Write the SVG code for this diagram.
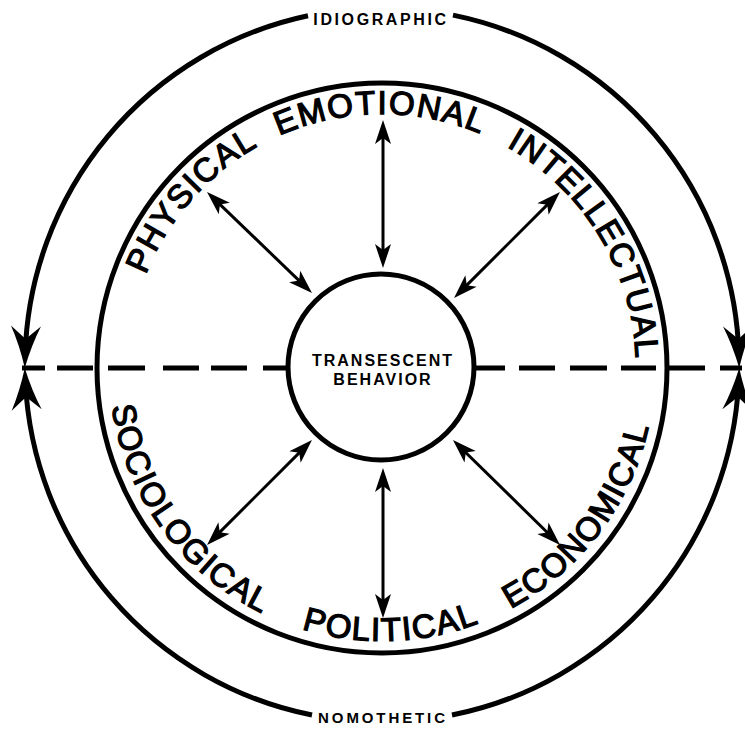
<svg xmlns="http://www.w3.org/2000/svg" width="745" height="730" viewBox="0 0 745 730">
<style>
.ring{fill:none;stroke:#000;stroke-width:5}
.big{fill:none;stroke:#000;stroke-width:5}
.arr{fill:none;stroke:#000;stroke-width:3}
.dash{fill:none;stroke:#000;stroke-width:5}
.lbl{font-family:"Liberation Sans",Arial,sans-serif;font-size:33px;letter-spacing:1.5px;fill:#000;stroke:#000;stroke-width:1.3px}
.sm{font-family:"Liberation Sans",Arial,sans-serif;font-weight:bold;fill:#000}
</style>
<defs>
<marker id="bigHead" markerUnits="userSpaceOnUse" orient="auto" refX="0" refY="0" markerWidth="60" markerHeight="40" viewBox="-30 -20 60 40" overflow="visible">
<path d="M13,0 Q-10,-6 -29,-15 L-16,0 L-29,15 Q-10,6 13,0 Z" fill="#000"/>
</marker>
<marker id="smHead" markerUnits="userSpaceOnUse" orient="auto-start-reverse" refX="0" refY="0" markerWidth="30" markerHeight="20" viewBox="-15 -10 30 20" overflow="visible">
<path d="M10,0 L-14,-8 L-8,0 L-14,8 Z" fill="#000"/>
</marker>
<path id="topArc" d="M128,368 A254,254 0 0 1 636,368"/>
<path id="botArc" d="M109,368 A273,273 0 0 0 655,368"/>
</defs>

<g id="connectors">
<path class="dash" d="M22,368H45 M57,368H93 M108,368H145 M163,368H199 M211,368H247 M263,368H288"/>
<path class="dash" d="M476,368H505 M519,368H555 M570,368H607 M621,368H656 M669,368H705 M720,368H742"/>
<path class="big" d="M308,15.75 A357,357 0 0 0 25.14,355" marker-end="url(#bigHead)"/>
<path class="big" d="M453,15.13 A357,357 0 0 1 738.86,355" marker-end="url(#bigHead)"/>
<path class="big" d="M312,715.07 A357,357 0 0 1 25.36,381" marker-end="url(#bigHead)"/>
<path class="big" d="M452,715.07 A357,357 0 0 0 738.64,381" marker-end="url(#bigHead)"/>
<path class="arr" d="M383,130 L383,258" marker-start="url(#smHead)" marker-end="url(#smHead)"/>
<path class="arr" d="M383,478 L383,608" marker-start="url(#smHead)" marker-end="url(#smHead)"/>
<path class="arr" d="M214.2,198.9 L304.8,286.1" marker-start="url(#smHead)" marker-end="url(#smHead)"/>
<path class="arr" d="M552.9,199.1 L461.1,290.9" marker-start="url(#smHead)" marker-end="url(#smHead)"/>
<path class="arr" d="M304.9,447.1 L214.1,537.9" marker-start="url(#smHead)" marker-end="url(#smHead)"/>
<path class="arr" d="M460.1,447 L552.9,538" marker-start="url(#smHead)" marker-end="url(#smHead)"/>
</g>

<g id="outer-labels">
<text class="sm" x="381" y="25" font-size="16" letter-spacing="2.6" text-anchor="middle">IDIOGRAPHIC</text>
<text class="sm" x="383" y="723" font-size="15" letter-spacing="2.9" text-anchor="middle">NOMOTHETIC</text>
</g>

<g id="inner-ring">
<circle class="ring" cx="382" cy="368" r="285"/>
<text class="lbl"><textPath href="#topArc" startOffset="183" text-anchor="middle">PHYSICAL</textPath></text>
<text class="lbl"><textPath href="#topArc" startOffset="397" text-anchor="middle">EMOTIONAL</textPath></text>
<text class="lbl"><textPath href="#topArc" startOffset="659" text-anchor="middle">INTELLECTUAL</textPath></text>
<text class="lbl"><textPath href="#botArc" startOffset="172" text-anchor="middle">SOCIOLOGICAL</textPath></text>
<text class="lbl"><textPath href="#botArc" startOffset="438" text-anchor="middle">POLITICAL</textPath></text>
<text class="lbl"><textPath href="#botArc" startOffset="681" text-anchor="middle">ECONOMICAL</textPath></text>
</g>

<g id="center">
<circle cx="381" cy="367" r="93" fill="#fff" stroke="#000" stroke-width="5"/>
<text class="sm" x="383" y="366" font-size="16" letter-spacing="2" text-anchor="middle">TRANSESCENT</text>
<text class="sm" x="383" y="385" font-size="16" letter-spacing="2" text-anchor="middle">BEHAVIOR</text>
</g>
</svg>
